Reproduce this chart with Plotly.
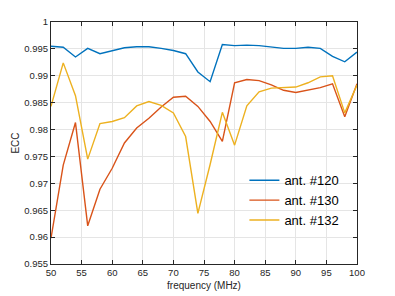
import plotly.graph_objects as go

freq = [50, 52, 54, 56, 58, 60, 62, 64, 66, 68, 70, 72, 74, 76, 78, 80, 82, 84, 86, 88, 90, 92, 94, 96, 98, 100]
ant120 = [0.9955, 0.9953, 0.9935, 0.9951, 0.9941, 0.9947, 0.9952, 0.9954, 0.9954, 0.9951, 0.9947, 0.9941, 0.9907,
          0.9889, 0.9958, 0.9956, 0.9957, 0.9956, 0.9953, 0.9951, 0.9951, 0.9953, 0.9951, 0.9936, 0.9926, 0.9944]
ant130 = [0.9598, 0.9734, 0.9813, 0.9621, 0.9689, 0.9728, 0.9775, 0.9803, 0.9821, 0.9842, 0.9860, 0.9862, 0.9843,
          0.9815, 0.9778, 0.9887, 0.9893, 0.9891, 0.9883, 0.9873, 0.9869, 0.9873, 0.9878, 0.9885, 0.9824, 0.9885]
ant132 = [0.9843, 0.9924, 0.9863, 0.9745, 0.9811, 0.9815, 0.9822, 0.9844, 0.9852, 0.9845, 0.9831, 0.9787, 0.9644,
          0.9735, 0.9832, 0.9771, 0.9844, 0.9870, 0.9877, 0.9878, 0.9879, 0.9887, 0.9898, 0.9900, 0.9831, 0.9883]

xticks = [50, 55, 60, 65, 70, 75, 80, 85, 90, 95, 100]
yticks = [0.955, 0.96, 0.965, 0.97, 0.975, 0.98, 0.985, 0.99, 0.995, 1.0]
yticklabels = ["0.955", "0.96", "0.965", "0.97", "0.975", "0.98", "0.985", "0.99", "0.995", "1"]

names = ["ant. #120", "ant. #130", "ant. #132"]
colors = ["#0072BD", "#D95319", "#EDB120"]

fig = go.Figure()
for name, ys, c in zip(names, [ant120, ant130, ant132], colors):
    fig.add_trace(go.Scatter(x=freq, y=ys, mode="lines", name=name,
                             line=dict(color=c, width=1.4)))

axis_common = dict(
    showline=True, linecolor="#262626", linewidth=1, mirror="ticks",
    ticks="inside", ticklen=4, tickcolor="#262626", automargin=False,
    showgrid=True, gridcolor="#e5e5e5", gridwidth=1, zeroline=False,
    tickfont=dict(family="Liberation Sans, Arial", size=9.5, color="#262626"),
)

fig.update_xaxes(range=[50, 100], tickvals=xticks,
                 title=dict(text="frequency (MHz)", font=dict(family="Liberation Sans, Arial", size=10, color="#262626"), standoff=4),
                 **axis_common)
fig.update_yaxes(range=[0.955, 1.0], tickvals=yticks, ticktext=yticklabels,
                 title=dict(text="ECC", font=dict(family="Liberation Sans, Arial", size=10, color="#262626"), standoff=2),
                 **axis_common)

fig.update_layout(
    width=395, height=296,
    margin=dict(l=51, r=38, t=22, b=32),
    paper_bgcolor="white", plot_bgcolor="white",
    showlegend=True,
    legend=dict(x=0.632, y=0.408, xanchor="left", yanchor="top",
                bgcolor="rgba(255,255,255,0)", borderwidth=0,
                font=dict(family="Liberation Sans, Arial", size=13, color="#000000"),
                tracegroupgap=0, itemwidth=30),
)

fig.write_html("out.html", config={"displayModeBar": False},
               post_script="document.body.style.margin='0';document.body.style.padding='0';")
